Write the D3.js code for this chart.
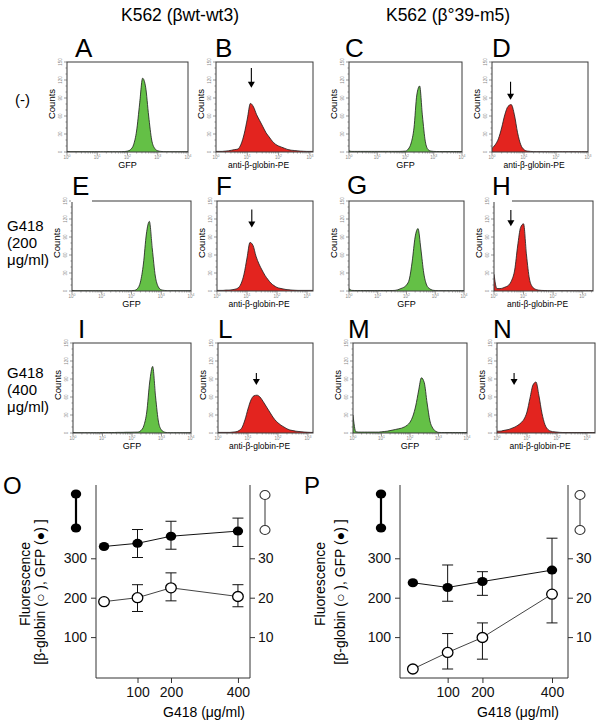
<!DOCTYPE html>
<html><head><meta charset="utf-8">
<script src="https://cdn.jsdelivr.net/npm/d3@7"></script>
<style>body{margin:0;background:#fff}svg{display:block;font-family:Arial,"Liberation Sans",sans-serif}</style>
</head><body><svg id="c" width="602" height="727"></svg>
<script>
// ---------------- DATA ----------------
const colHeaders = ["K562 (\u03B2wt-wt3)", "K562 (\u03B2\u00B039-m5)"];
const rowLabels = [["(-)"], ["G418", "(200", "\u03BCg/ml)"], ["G418", "(400", "\u03BCg/ml)"]];
const countTicks = [0, 30, 60, 90, 120, 150];
// log10 fluorescence bins
const gfpBins = [0,0.1,0.2,0.3,0.4,0.5,0.6,0.7,0.8,0.9,1,1.1,1.2,1.3,1.4,1.5,1.6,1.7,1.8,1.9,2,2.1,2.2,2.3,2.4,2.5,2.6,2.7,2.8,2.9,3,3.1,3.2,3.3,3.4,3.5,3.6,3.7,3.8,3.9,4];
const peBins = [0,0.1,0.2,0.3,0.4,0.5,0.6,0.7,0.8,0.9,1,1.1,1.2,1.3,1.4,1.5,1.6,1.7,1.8,1.9,2,2.1,2.2,2.3,2.4,2.5,2.6,2.7,2.8,2.9,3,3.1,3.2,3.3,3.4];
// GFP histograms (counts)
const countsA = [1,0.5,0.5,0.5,0.5,0.5,0.5,0.5,0.5,0.5, 0.5,0.5,0.5,0.5,0.5,0.5,0.5,0.5,0.6,0.8, 1.5,4,12,35,80,123,108,60,20,6, 2,1,0.5,0.5,0.5,0.5,0.5,0.5,0.5,0.5, 0.5];
const countsC = [2,1,1,1,1,1,1,1,1,1, 1,1,1,1,1,1,1,1,1,1.2, 1.5,5,15,40,95,110,60,18,4,1.5, 1,0.8,0.8,0.8,0.8,0.8,0.8,0.8,0.8,0.8, 0.8];
const countsE = [1,0.5,0.5,0.5,0.5,0.5,0.5,0.5,0.5,0.5, 0.5,0.5,0.5,0.5,0.5,0.5,0.5,0.5,0.5,0.5, 0.6,1,4,15,45,95,116,70,25,7, 2,1,0.5,0.5,0.5,0.5,0.5,0.5,0.5,0.5, 0.5];
const countsG = [4,1,0.8,0.8,0.8,0.8,0.8,0.8,0.8,0.8, 0.8,0.8,0.8,0.8,0.8,0.8,1,2,4,6, 10,20,50,90,104,70,30,10,4,1.5, 0.8,0.6,0.6,0.6,0.6,0.6,0.6,0.6,0.6,0.6, 0.6];
const countsI = [1,0.5,0.5,0.5,0.5,0.5,0.5,0.5,0.5,0.5, 0.8,0.8,0.8,0.8,0.8,1,1,1,1.2,1.2, 1.3,1.4,1.5,4,12,35,85,111,60,18, 5,1.5,0.6,0.5,0.5,0.5,0.5,0.5,0.5,0.5, 0.5];
const countsM = [30,2,1.5,1.5,1.5,1.5,1.5,1.5,1.5,1.5, 2,2.5,3,4,5,6,7,8,10,13, 18,28,45,70,92,84,50,20,8,3, 1,0.8,0.8,0.8,0.8,0.8,0.8,0.8,0.8,0.8, 0.8];
// anti-beta-globin-PE histograms (counts)
const countsB = [1,1,1,1.5,2,3,4,5,13,30, 55,81,75,62,52,42,32,25,18,13, 10,8,6,4,3,2.5,2,1.5,1.2,1, 1,1,1,1,1];
const countsD = [6,12,22,40,62,76,79,62,32,12, 4,1.5,1,0.6,0.5,0.5,0.5,0.5,0.5,0.5, 0.5,0.5,0.5,0.5,0.5,0.5,0.5,0.5,0.5,0.5, 0.5,0.5,0.5,0.5,0.5];
const countsF = [1,1,1,1.5,1.5,2,3,5,12,28, 55,81,76,58,45,35,26,19,13,9, 6,4.5,3.5,2.5,2,1.5,1.2,1,1,1, 1,1,1,1,1];
const countsH = [28,4,4,5,7,10,18,35,75,106, 112,60,20,7,3,1.5,1,0.8,0.6,0.5, 0.5,0.5,0.5,0.5,0.5,0.5,0.5,0.5,0.5,0.5, 0.5,0.5,0.5,0.5,0.5];
const countsL = [1,1,1,1,1,1.5,2,4,9,22, 40,55,62,63,60,53,45,37,29,22, 17,13,10,7,5,4,3,2.5,2,1.5, 1.2,1,1,1,1];
const countsN = [3,3,4,5,6,8,10,13,17,23, 35,58,80,85,62,33,14,6,3,2, 1.5,1,0.8,0.8,0.8,0.8,0.8,0.8,0.8,0.8, 0.8,0.8,0.8,0.8,0.8];
// arrows on PE histograms: [log position, tip count, tail count]
const arrowB = [1.13, 107, 140];
const arrowD = [0.58, 87, 117];
const arrowF = [1.16, 106, 136];
const arrowH = [0.57, 108, 135];
const arrowL = [1.28, 80, 100];
const arrowN = [0.57, 80, 100];

// G418 dose-response
const doses = [0, 100, 200, 400];
const doseTicks = [100, 200, 400];
const leftTicks = [100, 200, 300];
const rightTicks = [10, 20, 30];
const gfpO = [330, 338, 356, 369];
const gfpOLo = [null, 302, 323, 330];
const gfpOHi = [null, 373, 394, 402];
const globO = [19, 20, 22.5, 20.3];
const globOLo = [null, 16.5, 19.2, 17.7];
const globOHi = [null, 23.3, 26.3, 23.3];
const gfpP = [238, 226, 241, 270];
const gfpPLo = [null, 191, 206, 209];
const gfpPHi = [null, 283, 266, 351];
const globP = [1.9, 6.1, 9.9, 20.9];
const globPLo = [null, 1.9, 4.4, 13.6];
const globPHi = [null, 10.9, 13.6, 20.9];

// ---------------- DRAWING ----------------
const svg = d3.select('#c');
const GREEN = '#64c046', RED = '#e3241f';

svg.append('text').attr('x', 180).attr('y', 21).attr('text-anchor', 'middle').attr('font-size', 17.5).text(colHeaders[0]);
svg.append('text').attr('x', 448).attr('y', 21).attr('text-anchor', 'middle').attr('font-size', 17.5).text(colHeaders[1]);

const rowBase = [[105], [231, 248, 265], [378, 395, 412]];
rowLabels.forEach((lines, i) => {
  lines.forEach((s, j) => {
    svg.append('text').attr('x', i === 0 ? 15 : 7).attr('y', rowBase[i][j]).attr('font-size', 15).text(s);
  });
});

const panels = [
  {id:'A', kind:'gfp', counts:countsA, box:[67,62,188,152], xMax:4, lx:75, ly:57},
  {id:'B', kind:'pe', counts:countsB, box:[216,62,313,152], xMax:3.1, lx:215, ly:57, arrow:arrowB},
  {id:'C', kind:'gfp', counts:countsC, box:[349,62,462,152], xMax:4, lx:345, ly:57},
  {id:'D', kind:'pe', counts:countsD, box:[492,62,588,152], xMax:3.0, lx:492, ly:57, arrow:arrowD},
  {id:'E', kind:'gfp', counts:countsE, box:[72,201,191,291], xMax:4, lx:72, ly:195, mask:true},
  {id:'F', kind:'pe', counts:countsF, box:[217,201,313,291], xMax:3.2, lx:216, ly:195, arrow:arrowF},
  {id:'G', kind:'gfp', counts:countsG, box:[349,201,464,291], xMax:4, lx:347, ly:194},
  {id:'H', kind:'pe', counts:countsH, box:[494,201,593,291], xMax:3.35, lx:492, ly:195, arrow:arrowH, mask:true},
  {id:'I', kind:'gfp', counts:countsI, box:[73,343,191,433], xMax:4, lx:78, ly:338},
  {id:'L', kind:'pe', counts:countsL, box:[218,343,313,433], xMax:3.17, lx:218, ly:338, arrow:arrowL},
  {id:'M', kind:'gfp', counts:countsM, box:[353,343,467,433], xMax:4, lx:348, ly:338},
  {id:'N', kind:'pe', counts:countsN, box:[497,343,595,433], xMax:3.27, lx:493, ly:338, arrow:arrowN}
];

panels.forEach(p => {
  const [l, t, r, b] = p.box;
  const isG = p.kind === 'gfp';
  const bins = isG ? gfpBins : peBins;
  const x = d3.scaleLinear().domain([0, p.xMax]).range([l, r]);
  const y = d3.scaleLinear().domain([0, 150]).range([b, t]);
  const g = svg.append('g');
  g.append('clipPath').attr('id', 'clip' + p.id).append('rect')
    .attr('x', l).attr('y', t).attr('width', r - l).attr('height', b - t);
  const data = bins.map((v, i) => [v, p.counts[i]]);
  const area = d3.area().x(d => x(d[0])).y0(y(0)).y1(d => y(d[1])).curve(d3.curveMonotoneX);
  const line = d3.line().x(d => x(d[0])).y(d => y(d[1])).curve(d3.curveMonotoneX);
  const cg = g.append('g').attr('clip-path', `url(#clip${p.id})`);
  cg.append('path').attr('d', area(data)).attr('fill', isG ? GREEN : RED);
  cg.append('path').attr('d', line(data)).attr('fill', 'none').attr('stroke', '#1a1a1a').attr('stroke-width', 0.8);
  g.append('rect').attr('x', l).attr('y', t).attr('width', r - l).attr('height', b - t)
    .attr('fill', 'none').attr('stroke', '#3a3a3a').attr('stroke-width', 1);
  // y ticks
  d3.range(0, 151, 10).forEach(v => {
    const major = v % 30 === 0;
    g.append('line').attr('x1', l).attr('x2', l - (major ? 3 : 1.5)).attr('y1', y(v)).attr('y2', y(v))
      .attr('stroke', '#555').attr('stroke-width', 0.6);
  });
  countTicks.forEach(v => {
    g.append('text').attr('transform', `translate(${l - 5},${y(v)}) rotate(-90)`)
      .attr('text-anchor', 'middle').attr('font-size', 4.5).attr('fill', '#888').text(v);
  });
  // x ticks (log decades)
  const maxDec = Math.floor(p.xMax + 1e-6);
  for (let d = 0; d <= maxDec; d++) {
    g.append('line').attr('x1', x(d)).attr('x2', x(d)).attr('y1', b).attr('y2', b + 3).attr('stroke', '#555').attr('stroke-width', 0.6);
    for (let m = 2; m <= 9; m++) {
      const v = d + Math.log10(m);
      if (v <= p.xMax) g.append('line').attr('x1', x(v)).attr('x2', x(v)).attr('y1', b).attr('y2', b + 1.5).attr('stroke', '#555').attr('stroke-width', 0.5);
    }
    const tx = g.append('text').attr('x', x(d)).attr('y', b + 7).attr('text-anchor', 'middle').attr('font-size', 4.5).attr('fill', '#888');
    tx.append('tspan').text('10');
    tx.append('tspan').attr('dy', -1.8).attr('font-size', 3.5).text(d);
  }
  g.append('text').attr('transform', `translate(${l - 12},${(t + b) / 2 - 3}) rotate(-90)`)
    .attr('text-anchor', 'middle').attr('font-size', 9.5).text('Counts');
  g.append('text').attr('x', isG ? (l + r) / 2 : (l + r) / 2 - 6).attr('y', b + 15.5).attr('text-anchor', 'middle')
    .attr('font-size', isG ? 9 : 8.5).text(isG ? 'GFP' : 'anti-\u03B2-globin-PE');
  if (p.arrow) {
    const [ax, tip, tail] = p.arrow;
    const X = x(ax), Y1 = y(tail), Y2 = y(tip);
    g.append('line').attr('x1', X).attr('x2', X).attr('y1', Y1).attr('y2', Y2 - 4).attr('stroke', '#000').attr('stroke-width', 1.1);
    g.append('path').attr('d', `M${X - 3.5},${Y2 - 6}L${X + 3.5},${Y2 - 6}L${X},${Y2}Z`).attr('fill', '#000');
  }
  if (p.mask) {
    svg.append('rect').attr('x', p.lx - 1).attr('y', p.ly - 22).attr('width', 21).attr('height', t - p.ly + 23).attr('fill', '#fff');
  }
  svg.append('text').attr('x', p.lx).attr('y', p.ly).attr('font-size', 26).text(p.id);
});

// ---------- dose-response panels ----------
function dosePanel(cfg) {
  const {left, right, xDom, gfp, gfpLo, gfpHi, glob, globLo, globHi} = cfg;
  const bottom = 678, top = 485;
  const x = d3.scaleLinear().domain(xDom).range([left, right]);
  const yL = d3.scaleLinear().domain([0, 486]).range([676.5, 485]);
  const yR = d3.scaleLinear().domain([0, 48.6]).range([676.5, 485]);
  const g = svg.append('g');
  const ax = '#333';
  g.append('line').attr('x1', left).attr('x2', left).attr('y1', top).attr('y2', bottom).attr('stroke', ax);
  g.append('line').attr('x1', right).attr('x2', right).attr('y1', top).attr('y2', bottom).attr('stroke', ax);
  g.append('line').attr('x1', left).attr('x2', right).attr('y1', bottom).attr('y2', bottom).attr('stroke', ax);
  const la = g.append('g').attr('transform', `translate(${left},0)`)
    .call(d3.axisLeft(yL).tickValues(leftTicks).tickSize(5).tickPadding(4).tickSizeOuter(0));
  const ra = g.append('g').attr('transform', `translate(${right},0)`)
    .call(d3.axisRight(yR).tickValues(rightTicks).tickSize(5).tickPadding(3).tickSizeOuter(0));
  const ba = g.append('g').attr('transform', `translate(0,${bottom})`)
    .call(d3.axisBottom(x).tickValues(doseTicks).tickSize(5).tickPadding(4).tickSizeOuter(0));
  [la, ra, ba].forEach(a => {
    a.select('.domain').remove();
    a.selectAll('text').attr('font-size', 14).attr('font-family', 'Arial, "Liberation Sans", sans-serif').attr('fill', '#111');
    a.selectAll('line').attr('stroke', ax);
  });
  // lines
  const lineL = d3.line().x((d, i) => x(doses[i])).y(d => yL(d));
  const lineR = d3.line().x((d, i) => x(doses[i])).y(d => yR(d));
  g.append('path').attr('d', lineL(gfp)).attr('fill', 'none').attr('stroke', '#111').attr('stroke-width', 1);
  g.append('path').attr('d', lineR(glob)).attr('fill', 'none').attr('stroke', '#444').attr('stroke-width', 1);
  // error bars
  function err(lo, hi, sc) {
    doses.forEach((dv, i) => {
      if (lo[i] == null) return;
      const X = x(dv);
      g.append('line').attr('x1', X).attr('x2', X).attr('y1', sc(lo[i])).attr('y2', sc(hi[i])).attr('stroke', '#111');
      [lo[i], hi[i]].forEach(v => g.append('line').attr('x1', X - 5.5).attr('x2', X + 5.5).attr('y1', sc(v)).attr('y2', sc(v)).attr('stroke', '#111'));
    });
  }
  err(gfpLo, gfpHi, yL);
  err(globLo, globHi, yR);
  gfp.forEach((v, i) => g.append('ellipse').attr('cx', x(doses[i])).attr('cy', yL(v)).attr('rx', 5.2).attr('ry', 4.5).attr('fill', '#000'));
  glob.forEach((v, i) => g.append('ellipse').attr('cx', x(doses[i])).attr('cy', yR(v)).attr('rx', 5.3).attr('ry', 5)
    .attr('fill', '#fff').attr('stroke', '#000').attr('stroke-width', 1.3));
  // symbol keys
  const kx1 = cfg.keyL, kx2 = cfg.keyR;
  g.append('line').attr('x1', kx1).attr('x2', kx1).attr('y1', 494).attr('y2', 528).attr('stroke', '#000').attr('stroke-width', 2.2);
  [494, 528].forEach(yy => g.append('ellipse').attr('cx', kx1).attr('cy', yy).attr('rx', 5.2).attr('ry', 4.5).attr('fill', '#000'));
  g.append('line').attr('x1', kx2).attr('x2', kx2).attr('y1', 495).attr('y2', 530).attr('stroke', '#555').attr('stroke-width', 1.2);
  [495, 530].forEach(yy => g.append('ellipse').attr('cx', kx2).attr('cy', yy).attr('rx', 5).attr('ry', 4.5)
    .attr('fill', '#fff').attr('stroke', '#333').attr('stroke-width', 1.1));
  // titles
  g.append('text').attr('transform', `translate(${cfg.ylx1},584) rotate(-90)`).attr('text-anchor', 'middle')
    .attr('dy', '0.35em').attr('font-size', 14).text('Fluorescence');
  g.append('text').attr('transform', `translate(${cfg.ylx2},592) rotate(-90)`).attr('text-anchor', 'middle')
    .attr('dy', '0.35em').attr('font-size', 14).text('[\u03B2-globin (\u25CB ),  GFP (\u25CF) ]');
  g.append('text').attr('x', cfg.xtx).attr('y', 717).attr('text-anchor', 'middle').attr('font-size', 14).text('G418 (\u03BCg/ml)');
  svg.append('text').attr('x', cfg.letterX).attr('y', 494).attr('font-size', 24).text(cfg.letter);
}

dosePanel({letter:'O', letterX:3, left:96, right:250, xDom:[-24, 436], gfp:gfpO, gfpLo:gfpOLo, gfpHi:gfpOHi,
  glob:globO, globLo:globOLo, globHi:globOHi, keyL:76, keyR:265, ylx1:25, ylx2:40, xtx:204});
dosePanel({letter:'P', letterX:304, left:400, right:568, xDom:[-37, 446], gfp:gfpP, gfpLo:gfpPLo, gfpHi:gfpPHi,
  glob:globP, globLo:globPLo, globHi:globPHi, keyL:381, keyR:580, ylx1:320, ylx2:340, xtx:518});
</script></body></html>
